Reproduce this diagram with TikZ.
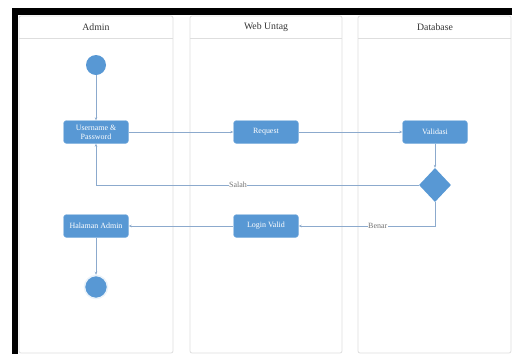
\documentclass[tikz,border=0pt]{standalone}
\usepackage{fontspec}
\setmainfont{Liberation Serif}
\usepackage{tikz}
\usetikzlibrary{
  shapes.geometric,
  arrows.meta
}
\definecolor{actblue}{RGB}{88,152,212}
\definecolor{flowline}{RGB}{140,170,205}
\definecolor{lanegray}{RGB}{222,222,222}

\begin{document}
\begin{tikzpicture}[%スタイル設定
          x=1bp,y=-1bp,
          lane/.style={
              draw=lanegray,
              line width=0.8bp,
              rounded corners=2bp
            },laneTitle/.style={
              font=\fontsize{9.8}{11}\selectfont,
              text=black!80
            },activity/.style={
              draw=actblue!70!white,
              fill=actblue,
              rounded corners=3bp,
              minimum width=65bp,
              minimum height=23bp,
              inner sep=1bp,
              align=center,
              text=white,
              font=\fontsize{8}{9}\selectfont
            },startDot/.style={
              circle,
              fill=actblue,
              minimum size=20bp,
              inner sep=0
            },endDot/.style={
              circle,
              fill=actblue,
              draw=actblue!12,
              line width=1.5bp,
              minimum size=23bp,
              inner sep=0
            },decision/.style={
              diamond,
              fill=actblue,
              aspect=0.94,
              minimum width=32bp,
              minimum height=34bp,
              inner sep=0
            },flow/.style={
              draw=flowline,
              line width=0.6bp,
              -{Stealth[length=3bp,width=2.5bp]}
            },guard/.style={
              fill=white,
              inner sep=0.5bp,
              text=black!55,
              font=\fontsize{8}{9}\selectfont
            }
        ]

        \useasboundingbox (0,0) rectangle (512,354);

        % 外枠(黒)
        \fill[black] (12,7.5) rectangle (512,15);
        \fill[black] (12,7.5) rectangle (18,354);

        % スイムレーン
        \draw[lane] (19,16) rectangle (173,353);
        \draw[lane] (190,16) rectangle (342,353);
        \draw[lane] (358,16) rectangle (511,353);
        \draw[lanegray] (19,38) -- (173,38);
        \draw[lanegray] (190,38) -- (342,38);
        \draw[lanegray] (358,38) -- (511,38);
        \node[laneTitle] (admin_title) at (96,27) {Admin};
        \node[laneTitle] (web_title) at (266,27) {Web Untag};
        \node[laneTitle] (db_title) at (435,27) {Database};

        % ノード
        \node[startDot] (start) at (96,65) {};
        \node[activity] (login_input) at (96,132) {Username \&\\Password};
        \node[activity] (request) at (266,132) {Request};
        \node[activity] (validasi) at (435,132) {Validasi};
        \node[decision] (check) at (435,185) {};
        \node[activity] (login_valid) at (266,226) {Login Valid};
        \node[activity] (halaman) at (96,226) {Halaman Admin};
        \node[endDot] (finish) at (96,287) {};

        % 矢印
        \draw[flow] (start) -- (login_input);
        \draw[flow] (login_input) -- (request);
        \draw[flow] (request) -- (validasi);
        \draw[flow] (validasi) -- (check);
        \draw[flow] (check.west) -| (login_input.south)
          node[guard,pos=.28] (salah) {Salah};
        \draw[flow] (check.south) |- (login_valid.east)
          node[guard,pos=.71] (benar) {Benar};
        \draw[flow] (login_valid) -- (halaman);
        \draw[flow] (halaman) -- (finish);

      \end{tikzpicture}
\end{document}
